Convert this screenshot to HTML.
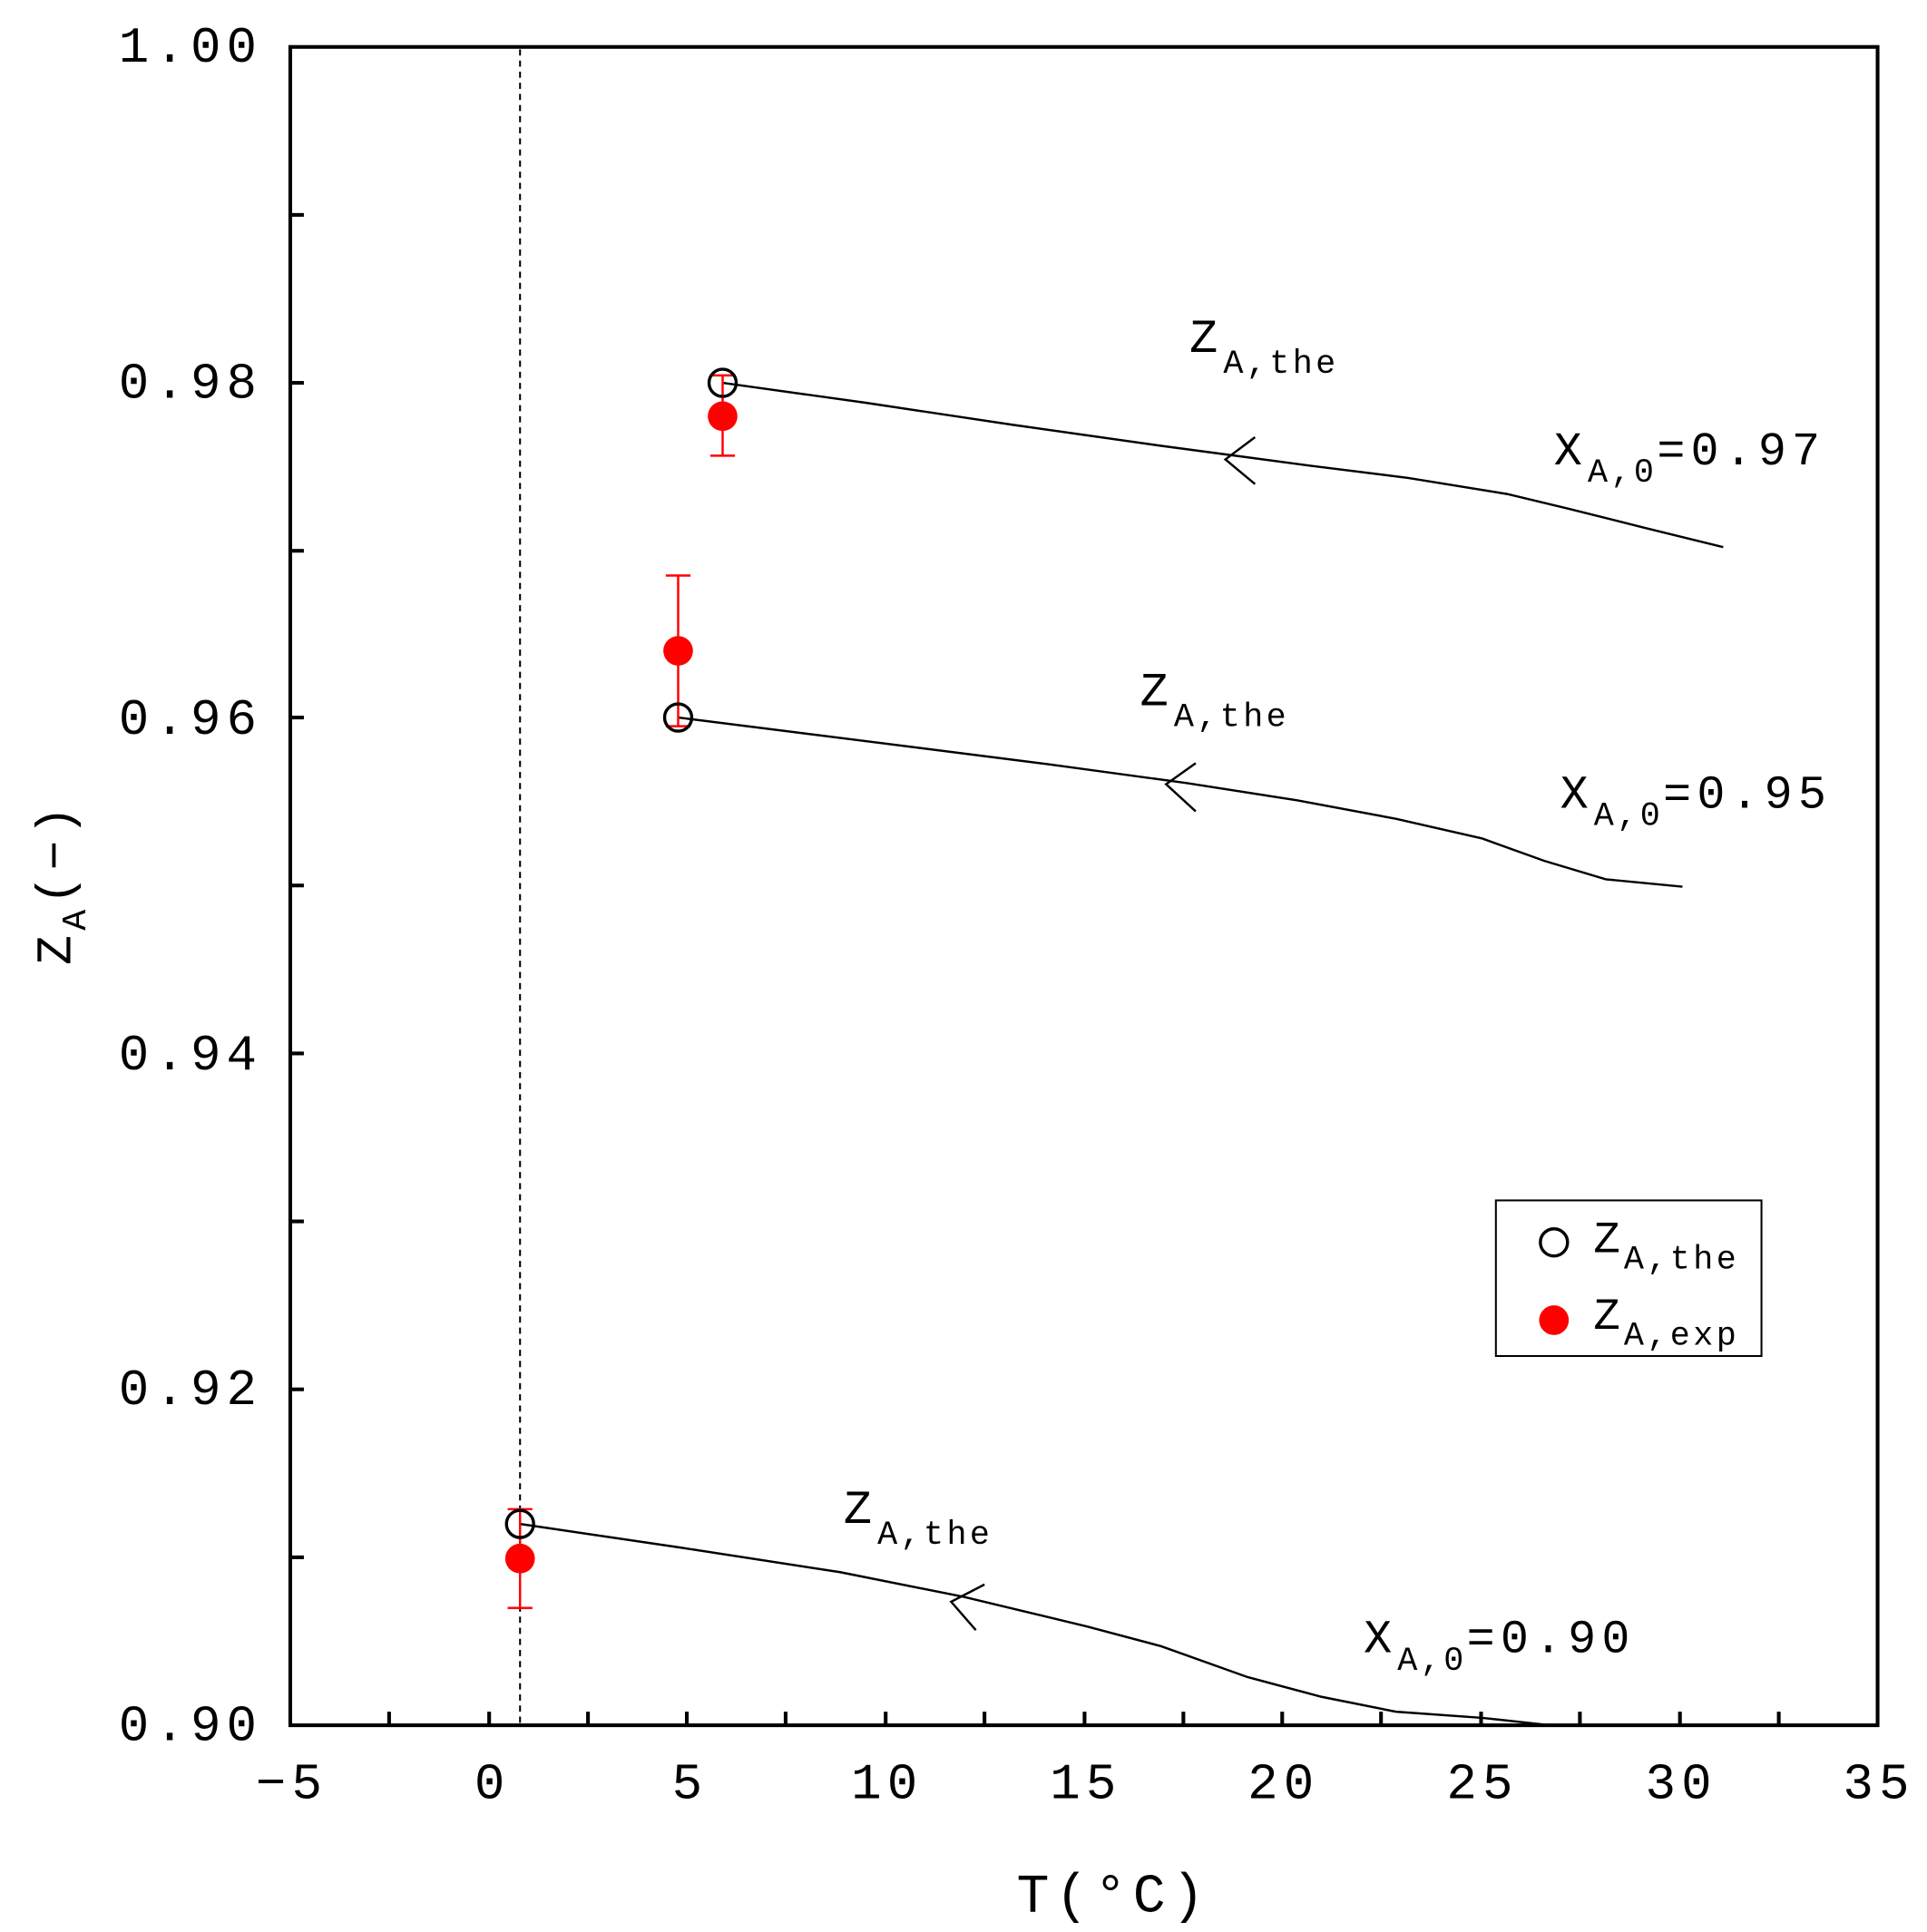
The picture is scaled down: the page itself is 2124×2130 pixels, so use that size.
<!DOCTYPE html>
<html><head><meta charset="utf-8"><style>html,body{margin:0;padding:0;background:#fff}svg{display:block}</style></head>
<body>
<svg width="2124" height="2130" viewBox="0 0 1560 1564.4" preserveAspectRatio="none" xmlns="http://www.w3.org/2000/svg" font-family="Liberation Mono, monospace">
<rect x="235" y="38" width="1285" height="1359" fill="none" stroke="#000" stroke-width="3"/>
<g stroke="#000" stroke-width="3">
<line x1="235" y1="174" x2="246" y2="174"/><line x1="235" y1="310" x2="246" y2="310"/>
<line x1="235" y1="446" x2="246" y2="446"/><line x1="235" y1="581" x2="246" y2="581"/>
<line x1="235" y1="717" x2="246" y2="717"/><line x1="235" y1="853" x2="246" y2="853"/>
<line x1="235" y1="989" x2="246" y2="989"/><line x1="235" y1="1125" x2="246" y2="1125"/>
<line x1="235" y1="1261" x2="246" y2="1261"/>
<line x1="315" y1="1397" x2="315" y2="1386"/><line x1="396" y1="1397" x2="396" y2="1386"/>
<line x1="476" y1="1397" x2="476" y2="1386"/><line x1="556" y1="1397" x2="556" y2="1386"/>
<line x1="636" y1="1397" x2="636" y2="1386"/><line x1="717" y1="1397" x2="717" y2="1386"/>
<line x1="797" y1="1397" x2="797" y2="1386"/><line x1="878" y1="1397" x2="878" y2="1386"/>
<line x1="958" y1="1397" x2="958" y2="1386"/><line x1="1038" y1="1397" x2="1038" y2="1386"/>
<line x1="1118" y1="1397" x2="1118" y2="1386"/><line x1="1199" y1="1397" x2="1199" y2="1386"/>
<line x1="1279" y1="1397" x2="1279" y2="1386"/><line x1="1360" y1="1397" x2="1360" y2="1386"/>
<line x1="1440" y1="1397" x2="1440" y2="1386"/>
</g>
<line x1="421" y1="40" x2="421" y2="1397" stroke="#000" stroke-width="1.5" stroke-dasharray="5,4"/>
<g font-size="41" fill="#000" letter-spacing="4.5">
<text x="96" y="50">1.00</text><text x="96" y="322">0.98</text><text x="96" y="594">0.96</text>
<text x="96" y="866">0.94</text><text x="96" y="1137">0.92</text><text x="96" y="1409">0.90</text>
</g>
<g font-size="41" fill="#000" letter-spacing="4.5">
<text x="207" y="1456">−5</text><text x="384" y="1456">0</text><text x="544" y="1456">5</text>
<text x="689" y="1456">10</text><text x="850" y="1456">15</text><text x="1010" y="1456">20</text>
<text x="1171" y="1456">25</text><text x="1332" y="1456">30</text><text x="1492" y="1456">35</text>
<text x="823" y="1548" font-size="44" letter-spacing="5">T(°C)</text>
</g>
<text transform="translate(57,715) rotate(-90)" font-size="40" text-anchor="middle" letter-spacing="4">Z<tspan font-size="28" dy="12">A</tspan><tspan dy="-12">(−)</tspan></text>
<g fill="none" stroke="#000" stroke-width="1.8">
<path d="M585,310 L700,326 L820,344 L940,361 L1060,377 L1140,387 L1220,400 L1270,412 L1330,427 L1395,443"/>
<path d="M549,581 L700,600 L850,619 L960,634 L1050,648 L1130,663 L1200,679 L1250,697 L1300,712 L1362,718"/>
<path d="M421,1234 L550,1253 L680,1273 L780,1293 L880,1317 L940,1333 L1010,1358 L1070,1374 L1130,1386 L1200,1391 L1255,1397"/>
<path d="M1016,354 L992,372 L1016,392"/>
<path d="M968,618 L944,635 L968,657"/>
<path d="M797,1283 L770,1297 L790,1320"/>
</g>
<g stroke="#f00" stroke-width="1.8">
<line x1="585" y1="304" x2="585" y2="369"/><line x1="575" y1="304" x2="595" y2="304"/><line x1="575" y1="369" x2="595" y2="369"/>
<line x1="549" y1="466" x2="549" y2="588"/><line x1="539" y1="466" x2="559" y2="466"/><line x1="539" y1="588" x2="559" y2="588"/>
<line x1="421" y1="1222" x2="421" y2="1302"/><line x1="411" y1="1222" x2="431" y2="1222"/><line x1="411" y1="1302" x2="431" y2="1302"/>
</g>
<g fill="#f00"><circle cx="585" cy="337" r="12"/><circle cx="549" cy="527" r="12"/><circle cx="421" cy="1262" r="12"/></g>
<g fill="none" stroke="#000" stroke-width="2.5"><circle cx="585" cy="310" r="11"/><circle cx="549" cy="581" r="11"/><circle cx="421" cy="1234" r="11"/></g>
<g font-size="38" fill="#000" letter-spacing="4.5">
<text x="963" y="285">Z<tspan font-size="27" dy="17" letter-spacing="2.5">A,the</tspan></text>
<text x="923" y="571">Z<tspan font-size="27" dy="17" letter-spacing="2.5">A,the</tspan></text>
<text x="683" y="1233">Z<tspan font-size="27" dy="17" letter-spacing="2.5">A,the</tspan></text>
<text x="1258" y="376">X<tspan font-size="27" dy="14" letter-spacing="2.5">A,0</tspan><tspan dy="-14">=0.97</tspan></text>
<text x="1263" y="654">X<tspan font-size="27" dy="14" letter-spacing="2.5">A,0</tspan><tspan dy="-14">=0.95</tspan></text>
<text x="1104" y="1338">X<tspan font-size="27" dy="14" letter-spacing="2.5">A,0</tspan><tspan dy="-14">=0.90</tspan></text>
</g>
<rect x="1211" y="972" width="215" height="126" fill="#fff" stroke="#000" stroke-width="1.5"/>
<circle cx="1258" cy="1006" r="11" fill="none" stroke="#000" stroke-width="2.5"/>
<circle cx="1258" cy="1069" r="12" fill="#f00"/>
<g font-size="36" fill="#000" letter-spacing="3">
<text x="1290" y="1014">Z<tspan font-size="27" dy="13" letter-spacing="2.5">A,the</tspan></text>
<text x="1290" y="1076">Z<tspan font-size="27" dy="13" letter-spacing="2.5">A,exp</tspan></text>
</g>
</svg>
</body></html>
